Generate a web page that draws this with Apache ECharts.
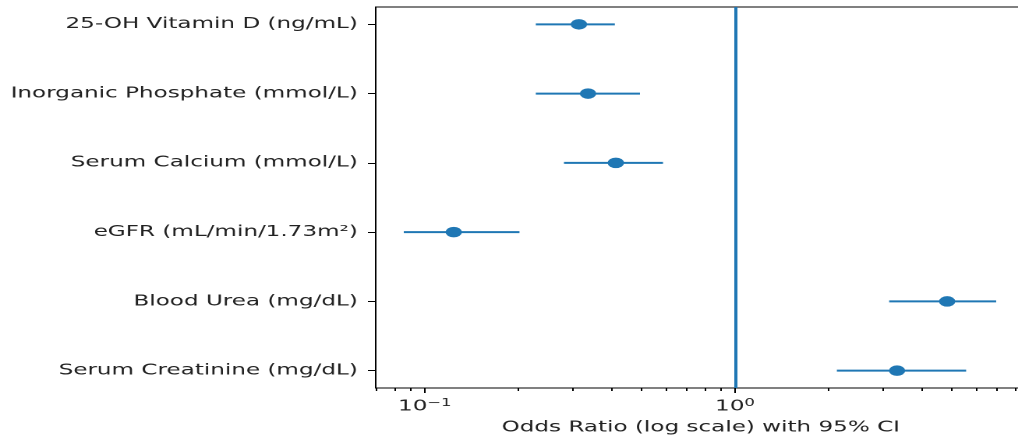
<!DOCTYPE html>
<html>
<head>
<meta charset="utf-8">
<title>Forest plot</title>
<script src="https://cdn.jsdelivr.net/npm/echarts@6/dist/echarts.min.js"></script>
<style>
	html, body { margin: 0; padding: 0; background: #fff; overflow: hidden; }
	#wrap { width: 1018px; height: 437px; overflow: hidden; }
	/* the original figure is stretched sideways, so the chart is too */
	#forest { width: 653px; height: 437px; transform: scaleX(1.559); transform-origin: 0 0; }
</style>
</head>
<body>
<div id="wrap"><div id="forest"></div></div>
<script>
var labels = ['25-OH Vitamin D (ng/mL)', 'Inorganic Phosphate (mmol/L)', 'Serum Calcium (mmol/L)',
	'eGFR (mL/min/1.73m²)', 'Blood Urea (mg/dL)', 'Serum Creatinine (mg/dL)'];
var oddsRatio = [0.314, 0.336, 0.413, 0.124, 4.83, 3.33];
var ciLower = [0.228, 0.228, 0.281, 0.0856, 3.14, 2.13];
var ciUpper = [0.410, 0.494, 0.586, 0.202, 6.95, 5.56];
var majorTicks = [0.1, 1];
var minorTicks = [0.07, 0.08, 0.09, 0.2, 0.3, 0.4, 0.5, 0.6, 0.7, 0.8, 0.9, 2, 3, 4, 5, 6, 7, 8];
var refLine = 1;
var xMin = 0.0695, xMax = 8.66;

(function () {
	var blue = '#1f77b4';
	var font = 'DejaVu Sans';
	var fs = 14.8;
	var rows = labels.map(function (l, i) { return i; });

	var points = oddsRatio.map(function (v, i) { return [v, i]; });
	var bars = rows.map(function (i) { return [ciLower[i], ciUpper[i], i]; });

	var myChart = echarts.init(document.getElementById('forest'), null, { devicePixelRatio: 2 });
	var option = {
		animation: false,
		grid: {
			left: 241, top: 7, width: 417, bottom: 49,
			outerBoundsMode: 'none',
			containLabel: false,
			show: true, borderColor: '#000', borderWidth: 1
		},
		xAxis: [
			{
				type: 'log', logBase: 10, min: xMin, max: xMax, position: 'bottom',
				axisLine: { show: false, onZero: false },
				splitLine: { show: false },
				axisTick: { length: 5, lineStyle: { color: '#000' }, customValues: majorTicks },
				axisLabel: {
					customValues: majorTicks,
					margin: 10,
					formatter: function (v) {
						return '{b|10}{s|' + (Math.round(Math.log10(v)) < 0 ? '\u22121' : '0') + '}';
					},
					rich: {
						b: { fontFamily: font, fontSize: fs, color: '#222', lineHeight: 17 },
						s: { fontFamily: font, fontSize: 10.5, color: '#222', lineHeight: 10, verticalAlign: 'top' }
					}
				},
				name: 'Odds Ratio (log scale) with 95% CI',
				nameLocation: 'middle',
				nameGap: 32,
				nameTextStyle: { fontFamily: font, fontSize: fs, color: '#222' }
			},
			{
				// minor ticks
				type: 'log', logBase: 10, min: xMin, max: xMax, position: 'bottom', offset: 0,
				axisLine: { show: false, onZero: false },
				splitLine: { show: false },
				axisTick: { length: 3, lineStyle: { color: '#000' }, customValues: minorTicks },
				axisLabel: { show: false }
			}
		],
		yAxis: {
			type: 'value', min: -0.25, max: 5.25, inverse: true,
			axisLine: { show: false, onZero: false },
			splitLine: { show: false },
			axisTick: { length: 5, lineStyle: { color: '#000' }, customValues: rows },
			axisLabel: {
				customValues: rows,
				margin: 11.5,
				fontFamily: font, fontSize: fs, color: '#222',
				formatter: function (v) { return labels[Math.round(v)]; }
			}
		},
		series: [
			{
				name: '95% CI',
				type: 'custom',
				xAxisIndex: 0,
				encode: { x: [0, 1], y: 2 },
				data: bars,
				renderItem: function (params, api) {
					var a = api.coord([api.value(0), api.value(2)]);
					var b = api.coord([api.value(1), api.value(2)]);
					return {
						type: 'line',
						shape: { x1: a[0], y1: a[1], x2: b[0], y2: b[1] },
						style: { stroke: blue, lineWidth: 2 }
					};
				},
				z: 2
			},
			{
				name: 'Odds Ratio',
				type: 'scatter',
				xAxisIndex: 0,
				symbol: 'circle',
				symbolSize: 10.5,
				itemStyle: { color: blue, opacity: 1 },
				data: points,
				z: 3,
				markLine: {
					silent: true,
					symbol: 'none',
					label: { show: false },
					lineStyle: { color: blue, width: 2, type: 'solid' },
					data: [{ xAxis: refLine }]
				}
			}
		]
	};
	myChart.setOption(option, true);
})();
</script>
</body>
</html>
